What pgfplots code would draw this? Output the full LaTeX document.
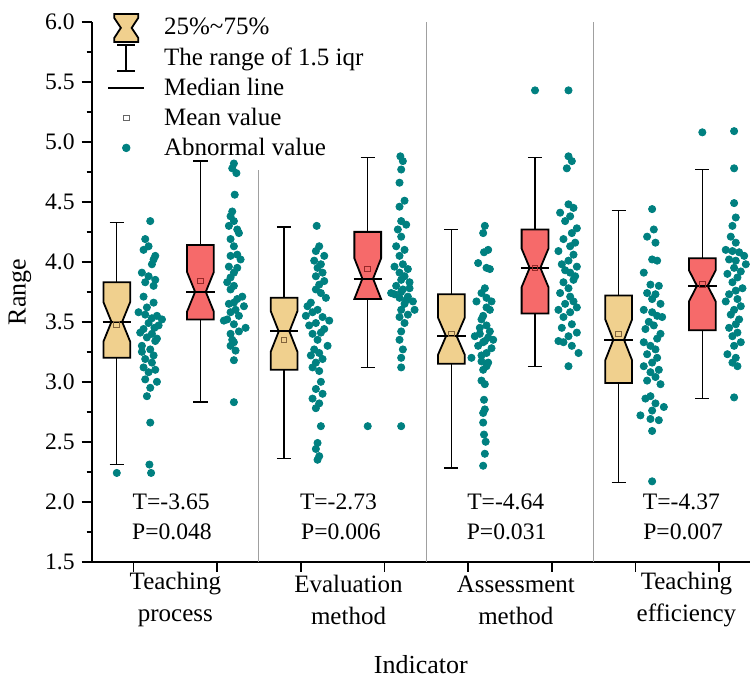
\documentclass[border=0pt]{standalone}
\usepackage{fontspec}
\setmainfont{Liberation Serif}
\usepackage{pgfplots}
\pgfplotsset{compat=1.18}
\definecolor{tanfill}{RGB}{240,208,142}
\definecolor{redfill}{RGB}{246,106,106}
\definecolor{dotteal}{RGB}{0,128,128}
\definecolor{sepgray}{RGB}{160,160,160}
\definecolor{meantan}{RGB}{130,100,60}
\definecolor{meanred}{RGB}{150,40,40}
\newcommand\tickfont{\fontsize{11.8bp}{14bp}\selectfont}
\newcommand\lblfont{\fontsize{12.5bp}{16bp}\selectfont}
\newcommand\tpfont{\fontsize{11.8bp}{14bp}\selectfont}
\newcommand\axfont{\fontsize{13bp}{15bp}\selectfont}
\begin{document}
\begin{tikzpicture}
\begin{axis}[
  name=ax, scale only axis, width=329.15bp, height=269.85bp,
  xmin=0.5, xmax=8.37, ymin=1.5, ymax=6.0,
  axis x line*=bottom, axis y line*=left,
  axis line style={line width=1bp},
  xtick={1,2,3,4,5,6,7,8}, xticklabels={,,,,,,,},
  ytick={1.5,2.0,2.5,3.0,3.5,4.0,4.5,5.0,5.5,6.0},
  minor y tick num=1,
  tick align=outside, major tick length=5bp, minor tick length=2.5bp,
  tick style={black, line width=0.8bp},
  yticklabel style={font=\tickfont, /pgf/number format/.cd, fixed, fixed zerofill, precision=1, assume math mode=true},
  ylabel={Range}, xlabel={Indicator},
  label style={font=\axfont},
  ylabel style={at={(axis description cs:-0.109,0.5)}, anchor=center},
  xlabel style={at={(axis description cs:0.5,-0.191)}, anchor=center},
  clip=false, unbounded coords=jump,
  legend style={at={(axis description cs:0.0232,1.0176)}, anchor=north west,
    draw=none, fill=none, inner sep=0pt, row sep=0pt, column sep=9.5bp,
    font=\lblfont, nodes={inner sep=0pt}},
  legend cell align=left,
]
% legend entries
\addlegendimage{legend image code/.code={
  \path[draw=none, fill=none] (0,-7.5bp) rectangle (18bp,7.5bp);
  \draw[black, fill=tanfill, line width=0.9bp] (3bp,7bp)--(15bp,7bp)--(15bp,5bp)--(11.7bp,0)--(15bp,-5bp)--(15bp,-7bp)--(3bp,-7bp)--(3bp,-5bp)--(6.3bp,0)--(3bp,5bp)--cycle;}}
\addlegendentry{25\%\textasciitilde75\%}
\addlegendimage{legend image code/.code={
  \path[draw=none, fill=none] (0,-7.5bp) rectangle (18bp,7.5bp);
  \draw[black, line width=0.8bp] (9bp,-6.5bp)--(9bp,6.5bp) (4.5bp,6.5bp)--(13.5bp,6.5bp) (4.5bp,-6.5bp)--(13.5bp,-6.5bp);}}
\addlegendentry{The range of 1.5 iqr}
\addlegendimage{legend image code/.code={
  \path[draw=none, fill=none] (0,-7.5bp) rectangle (18bp,7.5bp);
  \draw[black, line width=0.9bp] (0,0)--(18bp,0);}}
\addlegendentry{Median line}
\addlegendimage{legend image code/.code={
  \path[draw=none, fill=none] (0,-7.5bp) rectangle (18bp,7.5bp);
  \draw[black!60, line width=0.5bp] (7.6bp,-1.4bp) rectangle (10.4bp,1.4bp);}}
\addlegendentry{Mean value}
\addlegendimage{legend image code/.code={
  \path[draw=none, fill=none] (0,-7.5bp) rectangle (18bp,7.5bp);
  \fill[dotteal] (9bp,0) circle (1.9bp);}}
\addlegendentry{Abnormal value}

% group separators
\addplot[sepgray, line width=0.5bp, forget plot] coordinates {
  (2.5,1.5) (2.5,4.77) (2.5,nan)
  (4.5,1.5) (4.5,6.0) (4.5,nan)
  (6.5,1.5) (6.5,6.0)};

% whiskers and caps
\addplot[black, line width=0.7bp, forget plot] coordinates {
  (0.8,3.83) (0.8,4.33) (0.8,nan) (0.715,4.33) (0.885,4.33) (0.8,nan)
  (0.8,3.20) (0.8,2.31) (0.8,nan) (0.715,2.31) (0.885,2.31) (0.8,nan)
  (1.8,4.14) (1.8,4.84) (1.8,nan) (1.715,4.84) (1.885,4.84) (1.8,nan)
  (1.8,3.52) (1.8,2.83) (1.8,nan) (1.715,2.83) (1.885,2.83) (1.8,nan)
  (2.8,3.70) (2.8,4.29) (2.8,nan) (2.715,4.29) (2.885,4.29) (2.8,nan)
  (2.8,3.10) (2.8,2.36) (2.8,nan) (2.715,2.36) (2.885,2.36) (2.8,nan)
  (3.8,4.25) (3.8,4.87) (3.8,nan) (3.715,4.87) (3.885,4.87) (3.8,nan)
  (3.8,3.69) (3.8,3.12) (3.8,nan) (3.715,3.12) (3.885,3.12) (3.8,nan)
  (4.8,3.73) (4.8,4.27) (4.8,nan) (4.715,4.27) (4.885,4.27) (4.8,nan)
  (4.8,3.15) (4.8,2.28) (4.8,nan) (4.715,2.28) (4.885,2.28) (4.8,nan)
  (5.8,4.27) (5.8,4.87) (5.8,nan) (5.715,4.87) (5.885,4.87) (5.8,nan)
  (5.8,3.57) (5.8,3.13) (5.8,nan) (5.715,3.13) (5.885,3.13) (5.8,nan)
  (6.8,3.72) (6.8,4.43) (6.8,nan) (6.715,4.43) (6.885,4.43) (6.8,nan)
  (6.8,2.99) (6.8,2.16) (6.8,nan) (6.715,2.16) (6.885,2.16) (6.8,nan)
  (7.8,4.03) (7.8,4.77) (7.8,nan) (7.715,4.77) (7.885,4.77) (7.8,nan)
  (7.8,3.43) (7.8,2.86) (7.8,nan) (7.715,2.86) (7.885,2.86)};

% notched boxes
\addplot[fill=tanfill, draw=black, line width=0.9bp, forget plot] coordinates {
  (0.64,3.20) (0.96,3.20) (0.96,3.335) (0.864,3.50) (0.96,3.665) (0.96,3.83)
  (0.64,3.83) (0.64,3.665) (0.736,3.50) (0.64,3.335)} --cycle;
\addplot[fill=redfill, draw=black, line width=0.9bp, forget plot] coordinates {
  (1.64,3.52) (1.96,3.52) (1.96,3.585) (1.864,3.75) (1.96,3.915) (1.96,4.14)
  (1.64,4.14) (1.64,3.915) (1.736,3.75) (1.64,3.585)} --cycle;
\addplot[fill=tanfill, draw=black, line width=0.9bp, forget plot] coordinates {
  (2.64,3.10) (2.96,3.10) (2.96,3.25) (2.864,3.42) (2.96,3.59) (2.96,3.70)
  (2.64,3.70) (2.64,3.59) (2.736,3.42) (2.64,3.25)} --cycle;
\addplot[fill=redfill, draw=black, line width=0.9bp, forget plot] coordinates {
  (3.64,3.69) (3.96,3.69) (3.96,3.69) (3.864,3.86) (3.96,4.03) (3.96,4.25)
  (3.64,4.25) (3.64,4.03) (3.736,3.86) (3.64,3.69)} --cycle;
\addplot[fill=tanfill, draw=black, line width=0.9bp, forget plot] coordinates {
  (4.64,3.15) (4.96,3.15) (4.96,3.225) (4.864,3.38) (4.96,3.535) (4.96,3.73)
  (4.64,3.73) (4.64,3.535) (4.736,3.38) (4.64,3.225)} --cycle;
\addplot[fill=redfill, draw=black, line width=0.9bp, forget plot] coordinates {
  (5.64,3.57) (5.96,3.57) (5.96,3.79) (5.864,3.95) (5.96,4.11) (5.96,4.27)
  (5.64,4.27) (5.64,4.11) (5.736,3.95) (5.64,3.79)} --cycle;
\addplot[fill=tanfill, draw=black, line width=0.9bp, forget plot] coordinates {
  (6.64,2.99) (6.96,2.99) (6.96,3.18) (6.864,3.35) (6.96,3.52) (6.96,3.72)
  (6.64,3.72) (6.64,3.52) (6.736,3.35) (6.64,3.18)} --cycle;
\addplot[fill=redfill, draw=black, line width=0.9bp, forget plot] coordinates {
  (7.64,3.43) (7.96,3.43) (7.96,3.67) (7.864,3.80) (7.96,3.93) (7.96,4.03)
  (7.64,4.03) (7.64,3.93) (7.736,3.80) (7.64,3.67)} --cycle;

% median lines
\addplot[black, line width=1bp, forget plot] coordinates {
  (0.63,3.50) (0.97,3.50) (0.97,nan) (1.63,3.75) (1.97,3.75) (1.97,nan)
  (2.63,3.42) (2.97,3.42) (2.97,nan) (3.63,3.86) (3.97,3.86) (3.97,nan)
  (4.63,3.38) (4.97,3.38) (4.97,nan) (5.63,3.95) (5.97,3.95) (5.97,nan)
  (6.63,3.35) (6.97,3.35) (6.97,nan) (7.63,3.80) (7.97,3.80)};

% mean values
\addplot[only marks, mark=square, mark size=1.4bp, meantan, mark options={line width=0.5bp}, forget plot]
  coordinates {(0.8,3.48) (2.8,3.35) (4.8,3.40) (6.8,3.40)};
\addplot[only marks, mark=square, mark size=1.4bp, meanred, mark options={line width=0.5bp}, forget plot]
  coordinates {(1.8,3.84) (3.8,3.94) (5.8,3.95) (7.8,3.81)};

% data points beside each box
\addplot[only marks, mark=*, mark size=1.8bp, dotteal, mark options={draw=dotteal, fill=dotteal}, forget plot]
coordinates {
  % group 1, tan
  (1.20,4.34) (1.14,4.19) (1.18,4.13) (1.12,4.10) (1.26,4.05) (1.24,4.02) (1.22,3.98)
  (1.10,3.91) (1.18,3.88) (1.26,3.85) (1.14,3.83) (1.24,3.80) (1.12,3.71) (1.24,3.66)
  (1.16,3.62) (1.06,3.58) (1.14,3.56) (1.28,3.55) (1.22,3.53) (1.34,3.52) (1.18,3.49)
  (1.30,3.47) (1.25,3.45) (1.12,3.44) (1.08,3.41) (1.22,3.40) (1.16,3.37) (1.28,3.36)
  (1.26,3.34) (1.10,3.30) (1.20,3.27) (1.10,3.25) (1.24,3.22) (1.14,3.19) (1.22,3.16)
  (1.12,3.12) (1.26,3.10) (1.18,3.08) (1.14,3.02) (1.28,3.00) (1.20,2.95) (1.16,2.88)
  (1.20,2.66) (1.19,2.31) (1.21,2.24)
  % group 1, red
  (2.20,4.82) (2.18,4.78) (2.23,4.74) (2.21,4.56) (2.18,4.42) (2.16,4.38) (2.20,4.34)
  (2.14,4.30) (2.24,4.27) (2.26,4.24) (2.16,4.19) (2.20,4.13) (2.24,4.06) (2.16,4.05)
  (2.28,4.02) (2.14,3.96) (2.24,3.95) (2.20,3.91) (2.16,3.87) (2.12,3.83) (2.20,3.80)
  (2.16,3.77) (2.30,3.71) (2.24,3.69) (2.20,3.66) (2.14,3.65) (2.32,3.63) (2.22,3.60)
  (2.16,3.58) (2.26,3.55) (2.12,3.52) (2.08,3.51) (2.20,3.48) (2.34,3.45) (2.26,3.42)
  (2.16,3.40) (2.18,3.35) (2.20,3.33) (2.16,3.30) (2.22,3.26) (2.20,3.18) (2.20,2.83)
  % group 2, tan
  (3.19,4.30) (3.22,4.13) (3.18,4.09) (3.28,4.05) (3.16,4.01) (3.24,3.98) (3.20,3.95)
  (3.26,3.91) (3.18,3.88) (3.28,3.84) (3.22,3.81) (3.18,3.77) (3.24,3.74) (3.30,3.70)
  (3.12,3.66) (3.08,3.63) (3.20,3.60) (3.14,3.58) (3.06,3.55) (3.26,3.54) (3.34,3.51)
  (3.18,3.49) (3.10,3.47) (3.28,3.44) (3.24,3.41) (3.14,3.40) (3.20,3.35) (3.32,3.30)
  (3.16,3.27) (3.22,3.24) (3.12,3.22) (3.26,3.19) (3.18,3.16) (3.14,3.12) (3.22,3.09)
  (3.24,3.00) (3.18,2.94) (3.26,2.90) (3.14,2.86) (3.22,2.82) (3.18,2.78) (3.24,2.63)
  (3.20,2.49) (3.18,2.44) (3.22,2.38) (3.20,2.35)
  % group 2, red
  (4.19,4.88) (4.22,4.84) (4.20,4.77) (4.18,4.66) (4.24,4.51) (4.18,4.46) (4.20,4.34)
  (4.26,4.31) (4.16,4.27) (4.20,4.21) (4.14,4.13) (4.24,4.10) (4.18,4.05) (4.22,3.98)
  (4.12,3.96) (4.28,3.94) (4.18,3.91) (4.24,3.88) (4.20,3.85) (4.30,3.83) (4.14,3.80)
  (4.30,3.78) (4.22,3.77) (4.20,3.75) (4.08,3.74) (4.12,3.73) (4.28,3.71) (4.18,3.70)
  (4.26,3.68) (4.34,3.67) (4.24,3.65) (4.36,3.60) (4.20,3.60) (4.28,3.56) (4.18,3.54)
  (4.24,3.49) (4.20,3.42) (4.18,3.35) (4.22,3.27) (4.20,3.20) (4.20,3.12) (4.20,2.63)
  % group 3, tan
  (5.20,4.30) (5.18,4.24) (5.24,4.10) (5.19,4.08) (5.12,3.99) (5.22,3.95) (5.26,3.94)
  (5.20,3.78) (5.16,3.74) (5.22,3.70) (5.10,3.67) (5.28,3.67) (5.22,3.62) (5.26,3.60)
  (5.18,3.55) (5.16,3.52) (5.22,3.47) (5.14,3.45) (5.26,3.42) (5.14,3.40) (5.08,3.38)
  (5.24,3.37) (5.30,3.35) (5.20,3.34) (5.18,3.33) (5.12,3.30) (5.28,3.28) (5.22,3.24)
  (5.16,3.22) (5.04,3.20) (5.16,3.17) (5.24,3.16) (5.22,3.13) (5.18,3.10) (5.16,3.01)
  (5.20,2.98) (5.19,2.85) (5.20,2.77) (5.18,2.74) (5.18,2.66) (5.19,2.56) (5.21,2.50)
  (5.20,2.40) (5.18,2.30)
  % group 3, red
  (6.20,5.43) (6.20,4.88) (6.24,4.84) (6.18,4.78) (6.20,4.48) (6.26,4.45) (6.10,4.41)
  (6.22,4.38) (6.16,4.34) (6.30,4.28) (6.24,4.24) (6.14,4.19) (6.28,4.16) (6.22,4.13)
  (6.08,4.09) (6.26,4.06) (6.20,4.01) (6.12,3.98) (6.30,3.96) (6.16,3.93) (6.22,3.91)
  (6.28,3.88) (6.26,3.85) (6.14,3.83) (6.20,3.78) (6.10,3.74) (6.22,3.71) (6.26,3.67)
  (6.16,3.65) (6.30,3.62) (6.08,3.60) (6.22,3.58) (6.14,3.54) (6.24,3.48) (6.12,3.45)
  (6.30,3.41) (6.20,3.38) (6.08,3.34) (6.14,3.33) (6.24,3.30) (6.32,3.24) (6.20,3.13)
  % group 4, tan
  (7.20,4.44) (7.22,4.27) (7.14,4.21) (7.24,4.16) (7.20,4.02) (7.26,4.01) (7.10,3.91)
  (7.18,3.81) (7.28,3.80) (7.14,3.74) (7.24,3.73) (7.20,3.69) (7.30,3.65) (7.10,3.60)
  (7.20,3.58) (7.26,3.55) (7.32,3.54) (7.16,3.50) (7.22,3.47) (7.12,3.44) (7.30,3.40)
  (7.26,3.36) (7.10,3.33) (7.18,3.30) (7.24,3.27) (7.14,3.23) (7.26,3.20) (7.20,3.16)
  (7.10,3.13) (7.28,3.10) (7.18,3.08) (7.24,3.04) (7.14,3.01) (7.30,2.98) (7.18,2.88)
  (7.12,2.86) (7.24,2.82) (7.34,2.79) (7.20,2.76) (7.06,2.72) (7.18,2.69) (7.28,2.68)
  (7.20,2.59) (7.20,2.17)
  % group 4, red
  (8.18,5.09) (8.18,4.78) (8.18,4.49) (8.20,4.37) (8.16,4.30) (8.14,4.21) (8.20,4.16)
  (8.08,4.10) (8.16,4.09) (8.24,4.08) (8.30,4.05) (8.12,4.02) (8.20,4.01) (8.32,3.98)
  (8.18,3.95) (8.26,3.92) (8.10,3.90) (8.22,3.87) (8.16,3.83) (8.28,3.78) (8.20,3.76)
  (8.12,3.73) (8.22,3.69) (8.08,3.67) (8.26,3.63) (8.18,3.60) (8.14,3.56) (8.24,3.52)
  (8.20,3.48) (8.12,3.45) (8.22,3.41) (8.16,3.38) (8.26,3.33) (8.18,3.30) (8.10,3.23)
  (8.20,3.20) (8.16,3.16) (8.22,3.13) (8.18,2.87)
};
% abnormal values at the box positions
\addplot[only marks, mark=*, mark size=1.8bp, dotteal, mark options={draw=dotteal, fill=dotteal}, forget plot]
  coordinates {(0.8,2.24) (3.8,2.63) (5.8,5.43) (7.8,5.08)};

% t-test results
\node[font=\tpfont] at (axis cs:1.45,2.00) {T=-3.65};
\node[font=\tpfont] at (axis cs:1.46,1.75) {P=0.048};
\node[font=\tpfont] at (axis cs:3.45,2.00) {T=-2.73};
\node[font=\tpfont] at (axis cs:3.48,1.75) {P=0.006};
\node[font=\tpfont] at (axis cs:5.45,2.00) {T=-4.64};
\node[font=\tpfont] at (axis cs:5.46,1.75) {P=0.031};
\node[font=\tpfont] at (axis cs:7.55,2.00) {T=-4.37};
\node[font=\tpfont] at (axis cs:7.57,1.75) {P=0.007};

% category labels
\node[align=center, font=\lblfont] at (axis cs:1.50,1.181) {Teaching\\process};
\node[align=center, font=\lblfont] at (axis cs:3.57,1.181) {Evaluation\\method};
\node[align=center, font=\lblfont] at (axis cs:5.57,1.181) {Assessment\\method};
\node[align=center, font=\lblfont] at (axis cs:7.61,1.181) {Teaching\\efficiency};
\end{axis}
\pgfresetboundingbox
\path[use as bounding box] ([xshift=-45.85bp,yshift=-58.15bp]ax.south west) rectangle ([yshift=11bp]ax.north east);
\end{tikzpicture}
\end{document}
